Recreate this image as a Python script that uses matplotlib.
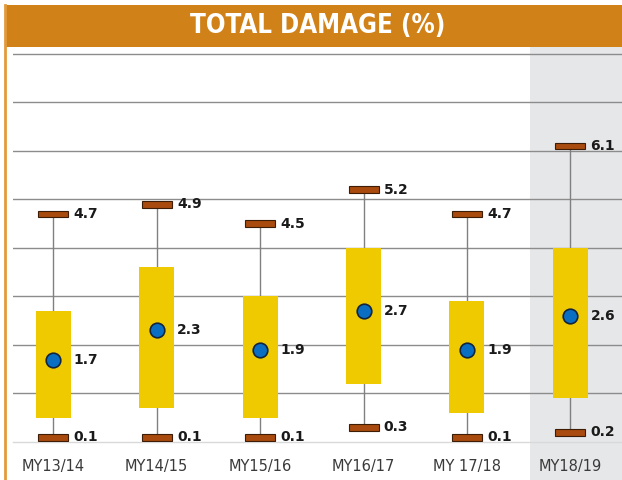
import numpy as np
import matplotlib.pyplot as plt
from matplotlib.patches import Rectangle
from matplotlib.lines import Line2D

# data
cats = ["MY13/14", "MY14/15", "MY15/16", "MY16/17", "MY 17/18", "MY18/19"]
mins = [0.1, 0.1, 0.1, 0.3, 0.1, 0.2]
maxs = [4.7, 4.9, 4.5, 5.2, 4.7, 6.1]
means = [1.7, 2.3, 1.9, 2.7, 1.9, 2.6]
q1 = [0.5, 0.7, 0.5, 1.2, 0.6, 0.9]
q3 = [2.7, 3.6, 3.0, 4.0, 2.9, 4.0]
yticks = [0, 1, 2, 3, 4, 5, 6, 7, 8]

W, H = 622, 480
fig = plt.figure(figsize=(W / 100, H / 100), dpi=100)
fig.patch.set_facecolor('white')

ORANGE = '#D08218'
YELLOW = '#EFCA00'
CAP = '#A94B0E'
BLUE = '#0A6FC2'

# title bar + left border
fig.patches.append(Rectangle((5 / W, 1 - 47 / H), 1 - 5 / W, 42 / H,
                             transform=fig.transFigure, facecolor=ORANGE,
                             edgecolor='none', zorder=0))
fig.lines.append(Line2D([5 / W, 5 / W], [0, 1 - 5 / H], transform=fig.transFigure,
                        color='#E39A3C', lw=2))
fig.text(0.51, 1 - 26 / H, "TOTAL DAMAGE (%)", color='white', fontsize=18.5,
         family='DejaVu Sans', fontstretch='condensed', fontweight='bold',
         ha='center', va='center')

ax = fig.add_axes([13 / W, 38 / H, 1 - 13 / W, (442 - 47) / H])
x = np.arange(len(cats))

# highlight last season
ax.axvspan(4.61, 5.6, ymin=-0.12, ymax=1, color='#E6E7E9', zorder=0, clip_on=False, lw=0)

for v in yticks[1:]:
    ax.axhline(v, color='#8C8C8C', lw=1, zorder=1)

# whiskers
ax.vlines(x, mins, maxs, color='#808080', lw=1, zorder=2)
# boxes
ax.bar(x, np.array(q3) - np.array(q1), bottom=q1, width=0.34, color=YELLOW, zorder=3, lw=0)
# caps
cap_h = 0.14
for vals in (mins, maxs):
    ax.bar(x, cap_h, bottom=np.array(vals) - cap_h / 2, width=0.29, color=CAP,
           edgecolor='#3d1d05', lw=0.8, zorder=4)
# means
ax.plot(x, means, 'o', ms=10.5, mfc=BLUE, mec='#14243c', mew=1.2, zorder=5, ls='none')

lab = dict(fontsize=10, fontweight='bold', color='#1a1a1a', va='center', ha='left', zorder=6)
for i in range(len(cats)):
    ax.text(x[i] + 0.195, means[i], f"{means[i]:.1f}", **lab)
    ax.text(x[i] + 0.195, maxs[i], f"{maxs[i]:.1f}", **lab)
    ax.text(x[i] + 0.195, mins[i], f"{mins[i]:.1f}", **lab)

ax.set_xlim(-0.39, 5.5)
ax.set_ylim(0, 8.14)
ax.set_yticks([])
ax.set_xticks(x)
ax.set_xticklabels(cats, fontsize=10.5, color='#3a3a3a')
ax.tick_params(axis='x', length=0, pad=12)
for s in ('top', 'right', 'left'):
    ax.spines[s].set_visible(False)
ax.spines['bottom'].set_color('#D9D9D9')
ax.spines['bottom'].set_linewidth(1)
ax.set_facecolor('none')

fig.savefig('out.png', dpi=100)
